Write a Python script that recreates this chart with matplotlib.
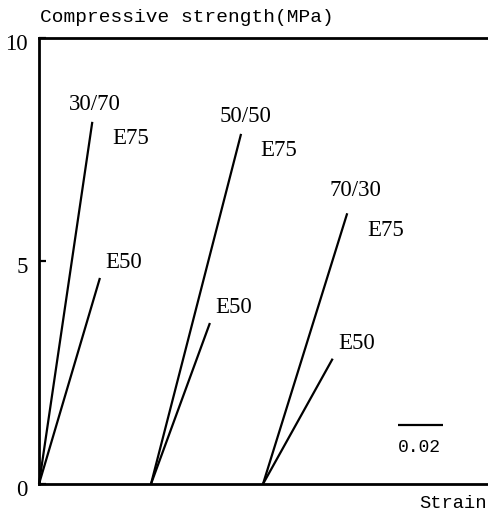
import matplotlib
matplotlib.use("Agg")
import matplotlib.pyplot as plt
import matplotlib.transforms as mtransforms

# ---- data ----
mixes = ["30/70", "50/50", "70/30"]
strain_offset = [0.0, 0.05, 0.10]          # each mix shifted along strain axis
e75_strain = [0.0238, 0.0402, 0.0376]      # strain at E75 line end (relative to offset)
e75_stress = [8.12, 7.85, 6.07]            # MPa
e50_strain = [0.0272, 0.0263, 0.0311]
e50_stress = [4.62, 3.61, 2.81]
y_ticks = [0, 5, 10]
y_ticklabels = ["0", "5", "10"]
scale_bar_len = 0.02

W, H = 489, 513
fig = plt.figure(figsize=(W / 100, H / 100), dpi=100)
ax = fig.add_axes([39 / W, 1 - 484 / H, (W - 39) / W, (484 - 38) / H])

xmax = (W - 39) / 2240
ax.set_xlim(0, xmax)
ax.set_ylim(0, 10)

serif = "Liberation Serif"
mono = "Liberation Mono"
fs = 16.5

lw = 1.6
for off, s75, f75, s50, f50 in zip(strain_offset, e75_strain, e75_stress, e50_strain, e50_stress):
    ax.plot([off, off + s75], [0, f75], color="black", lw=lw, solid_capstyle="butt", clip_on=False)
    ax.plot([off, off + s50], [0, f50], color="black", lw=lw, solid_capstyle="butt", clip_on=False)

# labels: mix label above E75 end, "E75" to right, "E50" above-right of E50 end
mix_label_dxy = [(0.0012, 0.4), (0.0018, 0.4), (0.0038, 0.5)]
for i, (off, s75, f75, s50, f50) in enumerate(zip(strain_offset, e75_strain, e75_stress, e50_strain, e50_stress)):
    dx, dy = mix_label_dxy[i]
    ax.text(off + s75 + dx, f75 + dy, mixes[i], fontfamily=serif, fontsize=fs,
            ha="center", va="center")
    ax.text(off + s75 + 0.017, f75 - 0.38, "E75", fontfamily=serif, fontsize=fs,
            ha="center", va="center")
    ax.text(off + s50 + 0.0108, f50 + 0.35, "E50", fontfamily=serif, fontsize=fs,
            ha="center", va="center")

# scale bar
sb_x0 = (398 - 39) / 2240
sb_y = (484 - 425) / 44.6
ax.plot([sb_x0, sb_x0 + scale_bar_len], [sb_y, sb_y], color="black", lw=1.6,
        solid_capstyle="butt")
ax.text(sb_x0 + scale_bar_len / 2 - 0.0005, sb_y - 0.5, "0.02", fontfamily=mono,
        fontsize=13, ha="center", va="center")

# spines
for side in ["left", "bottom", "top"]:
    ax.spines[side].set_linewidth(2.0)
ax.spines["right"].set_visible(False)

ax.set_xticks([])
ax.set_yticks(y_ticks)
ax.set_yticklabels(y_ticklabels, fontfamily=serif, fontsize=fs)
ax.tick_params(axis="y", direction="in", length=5, width=1.6, pad=8)
offset = mtransforms.ScaledTranslation(0, -4 / 100, fig.dpi_scale_trans)
for lab in ax.get_yticklabels():
    lab.set_transform(lab.get_transform() + offset)

fig.text(40 / W, 1 - 17 / H, "Compressive strength(MPa)", fontfamily=mono,
         fontsize=14, ha="left", va="center")
fig.text(487 / W, 1 - 503 / H, "Strain", fontfamily=mono, fontsize=13.5,
         ha="right", va="center")

fig.savefig("out.png", dpi=100)
